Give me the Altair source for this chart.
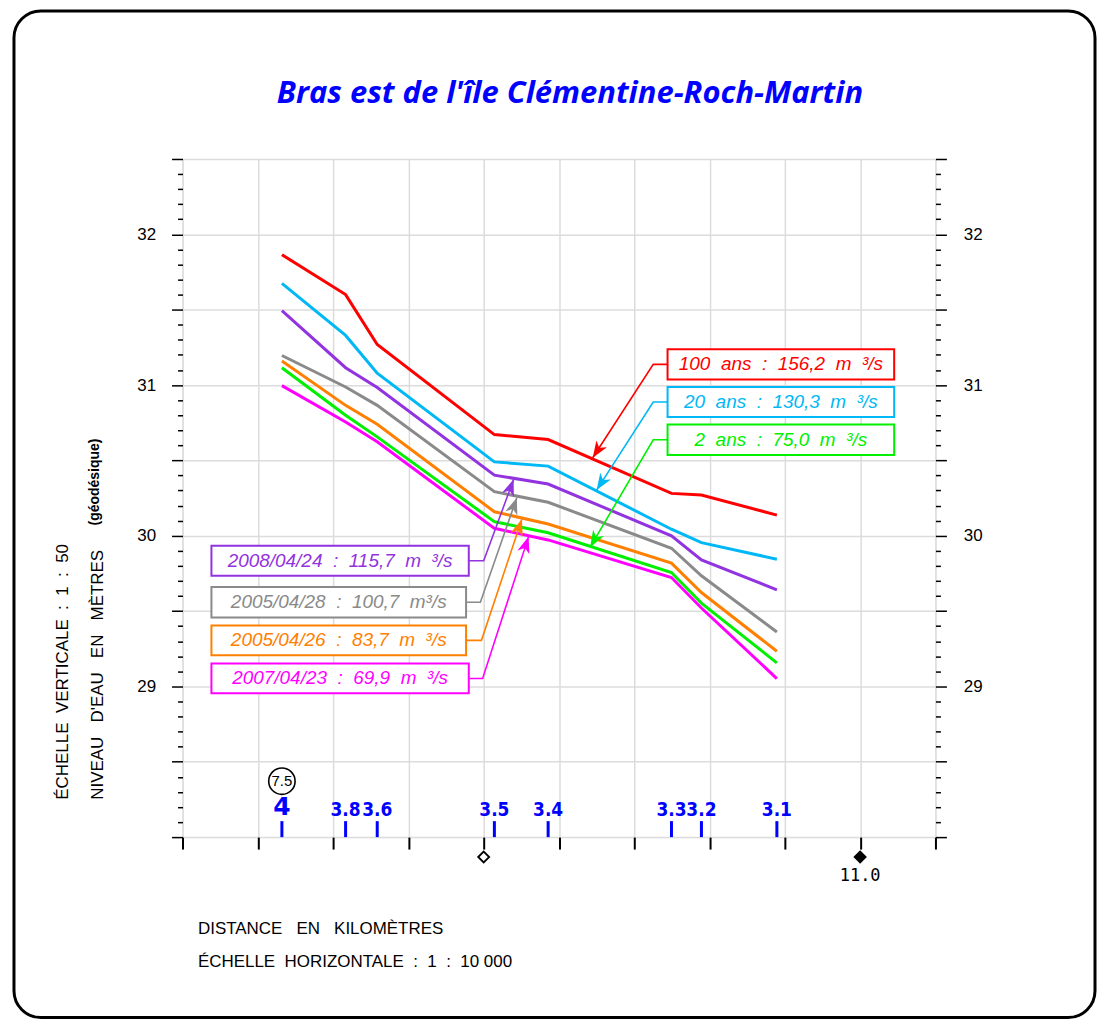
import math
import altair as alt
import numpy as np
import pandas as pd

# ---------------- data ----------------
km = [7.160, 7.583, 7.793, 8.571, 8.928, 9.747, 9.946, 10.447]
section_labels = ["4", "3.8", "3.6", "3.5", "3.4", "3.3", "3.2", "3.1"]

series_names = ["100 ans", "20 ans", "2008/04/24", "2005/04/28", "2005/04/26", "2 ans", "2007/04/23"]
series_colors = ["#ff0000", "#00b8f5", "#9233e0", "#8a8a8a", "#ff8000", "#00f000", "#ff00ff"]
series_widths = [3, 3, 2, 2, 2, 3.2, 2]

wl_100ans = [31.865, 31.600, 31.269, 30.671, 30.638, 30.281, 30.270, 30.137]
wl_20ans = [31.675, 31.329, 31.079, 30.490, 30.462, 30.043, 29.954, 29.844]
wl_20080424 = [31.494, 31.115, 30.983, 30.402, 30.343, 29.999, 29.840, 29.641]
wl_20050428 = [31.196, 30.987, 30.865, 30.292, 30.222, 29.917, 29.734, 29.361]
wl_20050426 = [31.159, 30.865, 30.740, 30.159, 30.078, 29.818, 29.623, 29.233]
wl_2ans = [31.115, 30.799, 30.656, 30.093, 30.020, 29.756, 29.553, 29.156]
wl_20070423 = [30.996, 30.755, 30.623, 30.049, 29.972, 29.723, 29.520, 29.052]
series_values = [wl_100ans, wl_20ans, wl_20080424, wl_20050428, wl_20050426, wl_2ans, wl_20070423]

# annotation boxes (data units: km, m)
ann_series = ["100 ans", "20 ans", "2 ans", "2008/04/24", "2005/04/28", "2005/04/26", "2007/04/23"]
ann_text = [
    "100\u00a0 ans\u00a0 :\u00a0 156,2\u00a0 m\u00a0 ³/s",
    "20\u00a0 ans\u00a0 :\u00a0 130,3\u00a0 m\u00a0 ³/s",
    "2\u00a0 ans\u00a0 :\u00a0 75,0\u00a0 m\u00a0 ³/s",
    "2008/04/24\u00a0 :\u00a0 115,7\u00a0 m\u00a0 ³/s",
    "2005/04/28\u00a0 :\u00a0 100,7\u00a0 m³/s",
    "2005/04/26\u00a0 :\u00a0 83,7\u00a0 m\u00a0 ³/s",
    "2007/04/23\u00a0 :\u00a0 69,9\u00a0 m\u00a0 ³/s",
]
box_x1 = [9.721, 9.721, 9.721, 6.692, 6.692, 6.692, 6.692]
box_x2 = [11.226, 11.226, 11.226, 8.401, 8.383, 8.383, 8.401]
box_top = [31.238, 30.987, 30.738, 29.934, 29.659, 29.405, 29.152]
box_bottom = [31.036, 30.788, 30.535, 29.734, 29.458, 29.206, 28.954]
elbow_km = [9.626, 9.626, 9.626, 8.500, 8.478, 8.485, 8.493]
tip_km = [9.224, 9.250, 9.207, 8.699, 8.720, 8.754, 8.798]
tip_m = [30.517, 30.303, 29.924, 30.374, 30.252, 30.111, 29.994]

TITLE = "Bras est de l'île Clémentine-Roch-Martin"

# ---------------- layout ----------------
W, H = 755, 680
X_DOM = [6.5, 11.5]
Y_DOM = [28.0, 32.5]
sx = W / (X_DOM[1] - X_DOM[0])
sy = H / (Y_DOM[1] - Y_DOM[0])

FONT = "Liberation Sans"

df_lines = pd.DataFrame(
    [{"serie": s, "km": k, "m": v, "i": j}
     for s, vals in zip(series_names, series_values)
     for j, (k, v) in enumerate(zip(km, vals))]
)

lead_rows, head_rows, box_rows = [], [], []
for i, s in enumerate(ann_series):
    yc = (box_top[i] + box_bottom[i]) / 2
    start = box_x1[i] if box_x1[i] > elbow_km[i] else box_x2[i]
    lead_rows += [
        {"serie": s, "step": 0, "km": start, "m": yc},
        {"serie": s, "step": 1, "km": elbow_km[i], "m": yc},
        {"serie": s, "step": 2, "km": tip_km[i], "m": tip_m[i]},
    ]
    dx = (tip_km[i] - elbow_km[i]) * sx
    dy = -(tip_m[i] - yc) * sy
    ang = (math.degrees(math.atan2(dx, -dy)) + 360) % 360
    head_rows.append({"serie": s, "km": tip_km[i], "m": tip_m[i], "ang": ang})
    box_rows.append({"serie": s, "x1": box_x1[i], "x2": box_x2[i], "y1": box_top[i],
                     "y2": box_bottom[i], "xc": (box_x1[i] + box_x2[i]) / 2, "yc": yc,
                     "label": ann_text[i]})
df_lead = pd.DataFrame(lead_rows)
df_head = pd.DataFrame(head_rows)
df_box = pd.DataFrame(box_rows)

df_sec = pd.DataFrame({"km": km, "label": section_labels,
                       "base": [Y_DOM[0]] * len(km), "top": [28.106] * len(km)})
df_circle = pd.DataFrame({"km": [km[0]], "m": [28.371], "label": ["7.5"]})
df_diam = pd.DataFrame({"km": [8.5, 11.0], "m": [27.868, 27.868], "filled": ["open", "full"]})
df_km_label = pd.DataFrame({"km": [11.0], "m": [27.742], "label": ["11.0"]})

xscale = alt.Scale(domain=X_DOM, nice=False, zero=False)
yscale = alt.Scale(domain=Y_DOM, nice=False, zero=False)
color_scale = alt.Scale(domain=series_names, range=series_colors)

half_test = "abs(datum.value*2 - round(datum.value*2)) < 0.001"
int_test = "abs(datum.value - round(datum.value)) < 0.001 && datum.value > 28.5 && datum.value < 32.4"
yvals = [round(v, 1) for v in np.arange(28.0, 32.5001, 0.1)]
xvals = [round(v, 1) for v in np.arange(6.5, 11.5001, 0.5)]

axis_bottom = alt.Axis(
    orient="bottom", values=xvals, labels=False, domain=False,
    ticks=True, tickSize=12, tickWidth=2, tickColor="black",
    grid=True, gridColor="#dcdcdc", gridWidth=1.5,
    title=["DISTANCE\u00a0\u00a0 EN\u00a0\u00a0 KILOMÈTRES",
           "ÉCHELLE\u00a0 HORIZONTALE\u00a0 :\u00a0 1\u00a0 :\u00a0 10\u00a0000"],
    titleFont=FONT, titleFontSize=17, titleFontWeight="normal", titleColor="black",
    titleAlign="left", titleBaseline="top", titleX=15, titleY=84, titleLineHeight=33,
)
axis_left = alt.Axis(
    orient="left", values=yvals, domain=False,
    ticks=True, tickColor="black", tickWidth=1.5,
    tickSize={"condition": {"test": half_test, "value": 11}, "value": 5},
    grid=True, gridColor="#dcdcdc", gridWidth=1.5,
    gridOpacity={"condition": {"test": half_test, "value": 1}, "value": 0},
    labelExpr=f"({int_test}) ? format(datum.value, 'd') : ''",
    labelFont=FONT, labelFontSize=17, labelColor="black", labelPadding=16,
    title=["ÉCHELLE\u00a0 VERTICALE\u00a0 :\u00a0 1\u00a0 :\u00a0 50",
           "NIVEAU\u00a0\u00a0 D'EAU\u00a0\u00a0 EN\u00a0\u00a0 MÈTRES"],
    titleFont=FONT, titleFontSize=17, titleFontWeight="normal", titleColor="black",
    titleAngle=270, titleAlign="left", titleBaseline="top",
    titleX=-128, titleY=642, titleLineHeight=35,
)
axis_right = alt.Axis(
    orient="right", values=yvals, domain=False,
    ticks=True, tickColor="black", tickWidth=1.5,
    tickSize={"condition": {"test": half_test, "value": 11}, "value": 5},
    grid=False,
    labelExpr=f"({int_test}) ? format(datum.value, 'd') : ''",
    labelFont=FONT, labelFontSize=17, labelColor="black", labelPadding=17,
    title="(géodésique)", titleFont=FONT, titleFontSize=14, titleFontWeight="bold",
    titleColor="black", titleAngle=270, titleAlign="left", titleBaseline="middle",
    titleX=95 - 938, titleY=367,
)
axis_top = alt.Axis(
    orient="top", labels=False, ticks=False, domain=False, grid=False,
    title=TITLE, titleFont="Open Sans", titleFontSize=31, titleFontWeight="bold",
    titleFontStyle="italic", titleColor="#0000ff", titleAngle=0,
    titleAlign="center", titleBaseline="middle", titleX=571 - 183, titleY=92 - 158,
)

frame = alt.Chart(pd.DataFrame({"a": [0]})).mark_rect(
    filled=False, stroke="black", strokeWidth=3, cornerRadius=27
).encode(x=alt.value(-169), x2=alt.value(915), y=alt.value(-148.5), y2=alt.value(861))

lines = alt.Chart(df_lines).mark_line(strokeJoin="miter").encode(
    x=alt.X("km:Q", scale=xscale, axis=axis_bottom),
    y=alt.Y("m:Q", scale=yscale, axis=axis_left),
    color=alt.Color("serie:N", scale=color_scale, legend=None),
    strokeWidth=alt.StrokeWidth("serie:N", scale=alt.Scale(domain=series_names, range=series_widths), legend=None),
    order=alt.Order("i:Q"),
)

leaders = alt.Chart(df_lead).mark_line(strokeWidth=1.6).encode(
    x=alt.X("km:Q", scale=xscale, axis=None),
    y=alt.Y("m:Q", scale=yscale, axis=None),
    color=alt.Color("serie:N", scale=color_scale, legend=None),
    order=alt.Order("step:Q"),
)

boxes = alt.Chart(df_box).mark_rect(fill="white", strokeWidth=2).encode(
    x=alt.X("x1:Q", scale=xscale, axis=axis_top),
    x2="x2:Q",
    y=alt.Y("y1:Q", scale=yscale, axis=axis_right),
    y2="y2:Q",
    stroke=alt.Stroke("serie:N", scale=color_scale, legend=None),
)

box_text = alt.Chart(df_box).mark_text(
    font=FONT, fontSize=19, fontStyle="italic", align="center", baseline="middle"
).encode(
    x=alt.X("xc:Q", scale=xscale, axis=None),
    y=alt.Y("yc:Q", scale=yscale, axis=None),
    text="label:N",
    color=alt.Color("serie:N", scale=color_scale, legend=None),
)

heads = alt.Chart(df_head).mark_point(
    shape="M0,0L-0.38,1L0,0.72L0.38,1Z", filled=True, size=1100, opacity=1
).encode(
    x=alt.X("km:Q", scale=xscale, axis=None),
    y=alt.Y("m:Q", scale=yscale, axis=None),
    angle=alt.Angle("ang:Q", scale=None),
    color=alt.Color("serie:N", scale=color_scale, legend=None),
)

sec_rules = alt.Chart(df_sec).mark_rule(color="#0000ff", strokeWidth=3).encode(
    x=alt.X("km:Q", scale=xscale, axis=None),
    y=alt.Y("base:Q", scale=yscale, axis=None),
    y2="top:Q",
)
sec_small = alt.Chart(df_sec[df_sec.label != "4"]).mark_text(
    font="DejaVu Sans Condensed", fontSize=19, fontWeight="bold", color="#0000ff", baseline="middle"
).encode(
    x=alt.X("km:Q", scale=xscale, axis=None),
    y=alt.value(653),
    text="label:N",
)
sec_big = alt.Chart(df_sec[df_sec.label == "4"]).mark_text(
    font="DejaVu Sans", fontSize=25, fontWeight="bold", color="#0000ff", baseline="middle"
).encode(
    x=alt.X("km:Q", scale=xscale, axis=None),
    y=alt.value(650),
    text="label:N",
)

circle = alt.Chart(df_circle).mark_point(
    shape="circle", size=700, filled=False, color="black", strokeWidth=1.6, opacity=1
).encode(
    x=alt.X("km:Q", scale=xscale, axis=None),
    y=alt.Y("m:Q", scale=yscale, axis=None),
)
circle_txt = alt.Chart(df_circle).mark_text(
    font=FONT, fontSize=15, color="black", baseline="middle"
).encode(
    x=alt.X("km:Q", scale=xscale, axis=None),
    y=alt.Y("m:Q", scale=yscale, axis=None),
    text="label:N",
)

diamonds = alt.Chart(df_diam).mark_point(
    shape="diamond", size=121, strokeWidth=1.8, opacity=1
).encode(
    x=alt.X("km:Q", scale=xscale, axis=None),
    y=alt.Y("m:Q", scale=yscale, axis=None),
    stroke=alt.value("black"),
    fill=alt.Fill("filled:N", scale=alt.Scale(domain=["open", "full"], range=["white", "black"]), legend=None),
)
km_label = alt.Chart(df_km_label).mark_text(
    font="DejaVu Sans Mono", fontSize=17, color="black", baseline="middle"
).encode(
    x=alt.X("km:Q", scale=xscale, axis=None),
    y=alt.Y("m:Q", scale=yscale, axis=None),
    text="label:N",
)

chart = alt.layer(
    frame, lines, leaders, boxes, box_text, heads, sec_rules, sec_small, sec_big,
    circle, circle_txt, diamonds, km_label,
).resolve_axis(x="independent", y="independent").properties(
    width=W, height=H,
    autosize=alt.AutoSizeParams(type="none"),
    padding={"left": 175, "top": 150, "right": 162, "bottom": 182},
).configure_view(stroke="black", strokeWidth=2).configure(background="white")

chart.save("out.html", embed_options={"renderer": "svg", "actions": False})
